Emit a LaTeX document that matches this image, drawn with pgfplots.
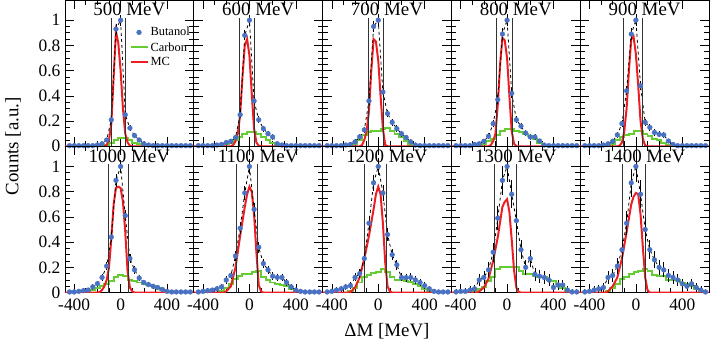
\documentclass[border=0pt]{standalone}
\usepackage{fontspec}
\setmainfont{Liberation Serif}
\usepackage{pgfplots}
\usepackage{pgfplotstable}
\pgfplotsset{compat=1.18}
\usepgfplotslibrary{groupplots}
\usetikzlibrary{calc}

\definecolor{butblue}{RGB}{74,114,196}
\definecolor{carbgreen}{RGB}{102,204,51}
\definecolor{mcred}{RGB}{236,30,36}

% columns: x = Delta M centre, b = butanol, e = error, c = carbon
\pgfplotstableread{
x b e c
-440 0.005 0.002 0
-400 0.005 0.002 0
-360 0.005 0.002 0
-320 0.005 0.002 0
-280 0.005 0.002 0
-240 0.005 0.002 0
-200 0.01 0.003 0
-160 0.02 0.004 0.005
-120 0.05 0.007 0.01
-80 0.21 0.014 0.03
-40 0.93 0.03 0.05
0 1.0 0.03 0.065
40 0.25 0.015 0.065
80 0.145 0.011 0.05
120 0.085 0.009 0.03
160 0.05 0.007 0.015
200 0.02 0.004 0.005
240 0.01 0.003 0
280 0.005 0.002 0
320 0.005 0.002 0
360 0.005 0.002 0
400 0.005 0.002 0
440 0.005 0.002 0
480 0.005 0.002 0
520 0.005 0.002 0
560 0.005 0.002 0
600 0.005 0.002 0
}\tA
\pgfplotstableread{
x b e c
-440 0.005 0.002 0
-400 0.005 0.002 0
-360 0.005 0.002 0
-320 0.005 0.002 0
-280 0.01 0.003 0
-240 0.015 0.004 0.005
-200 0.03 0.005 0.015
-160 0.04 0.006 0.03
-120 0.07 0.008 0.05
-80 0.25 0.015 0.075
-40 0.88 0.028 0.095
0 1.0 0.03 0.11
40 0.36 0.018 0.11
80 0.21 0.014 0.095
120 0.14 0.011 0.075
160 0.10 0.009 0.05
200 0.074 0.008 0.03
240 0.02 0.004 0.01
280 0.01 0.003 0
320 0.005 0.002 0
360 0.005 0.002 0
400 0.005 0.002 0
440 0.005 0.002 0
480 0.005 0.002 0
520 0.005 0.002 0
560 0.005 0.002 0
600 0.005 0.002 0
}\tB
\pgfplotstableread{
x b e c
-440 0.005 0.002 0
-400 0.005 0.002 0
-360 0.005 0.002 0
-320 0.005 0.002 0
-280 0.01 0.003 0
-240 0.015 0.004 0.005
-200 0.035 0.007 0.02
-160 0.075 0.01 0.05
-120 0.13 0.013 0.09
-80 0.36 0.021 0.11
-40 0.95 0.034 0.12
0 1.0 0.035 0.12
40 0.43 0.023 0.14
80 0.26 0.018 0.145
120 0.19 0.015 0.12
160 0.14 0.013 0.1
200 0.10 0.011 0.07
240 0.07 0.009 0.04
280 0.035 0.007 0.01
320 0.01 0.003 0
360 0.005 0.002 0
400 0.005 0.002 0
440 0.005 0.002 0
480 0.005 0.002 0
520 0.005 0.002 0
560 0.005 0.002 0
600 0.005 0.002 0
}\tC
\pgfplotstableread{
x b e c
-440 0.005 0.002 0
-400 0.005 0.002 0
-360 0.005 0.002 0
-320 0.005 0.002 0
-280 0.015 0.004 0
-240 0.02 0.005 0.005
-200 0.04 0.007 0.02
-160 0.08 0.01 0.04
-120 0.18 0.015 0.06
-80 0.37 0.021 0.09
-40 0.89 0.033 0.12
0 1.0 0.035 0.14
40 0.42 0.023 0.14
80 0.21 0.016 0.12
120 0.16 0.014 0.11
160 0.105 0.011 0.1
200 0.074 0.01 0.08
240 0.074 0.01 0.06
280 0.042 0.007 0.03
320 0.01 0.003 0.005
360 0.005 0.002 0
400 0.005 0.002 0
440 0.005 0.002 0
480 0.005 0.002 0
520 0.005 0.002 0
560 0.005 0.002 0
600 0.005 0.002 0
}\tD
\pgfplotstableread{
x b e c
-440 0.005 0.002 0
-400 0.005 0.002 0
-360 0.005 0.002 0
-320 0.005 0.002 0
-280 0.01 0.003 0
-240 0.02 0.005 0.005
-200 0.04 0.007 0.02
-160 0.09 0.01 0.05
-120 0.18 0.015 0.07
-80 0.44 0.023 0.09
-40 0.89 0.033 0.1
0 1.0 0.035 0.12
40 0.48 0.024 0.12
80 0.19 0.015 0.1
120 0.15 0.014 0.08
160 0.11 0.012 0.06
200 0.095 0.011 0.05
240 0.09 0.01 0.03
280 0.042 0.007 0.01
320 0.015 0.004 0
360 0.005 0.002 0
400 0.005 0.002 0
440 0.005 0.002 0
480 0.005 0.002 0
520 0.005 0.002 0
560 0.005 0.002 0
600 0.005 0.002 0
}\tE
\pgfplotstableread{
x b e c
-440 0.005 0.003 0
-400 0.005 0.003 0
-360 0.01 0.004 0
-320 0.015 0.005 0
-280 0.02 0.006 0.005
-240 0.045 0.008 0.02
-200 0.07 0.011 0.035
-160 0.12 0.014 0.05
-120 0.21 0.018 0.065
-80 0.44 0.027 0.09
-40 0.89 0.038 0.12
0 1.0 0.04 0.14
40 0.61 0.031 0.13
80 0.27 0.021 0.1
120 0.18 0.017 0.09
160 0.115 0.014 0.08
200 0.08 0.011 0.07
240 0.064 0.01 0.06
280 0.05 0.009 0.05
320 0.04 0.008 0.04
360 0.025 0.006 0.02
400 0.01 0.004 0.005
440 0.005 0.003 0
480 0.005 0.003 0
520 0.005 0.003 0
560 0.005 0.003 0
600 0.005 0.003 0
}\tF
\pgfplotstableread{
x b e c
-440 0.005 0.003 0
-400 0.01 0.005 0
-360 0.015 0.006 0
-320 0.02 0.007 0
-280 0.03 0.009 0
-240 0.045 0.011 0.01
-200 0.1 0.016 0.04
-160 0.136 0.018 0.07
-120 0.29 0.027 0.11
-80 0.51 0.036 0.13
-40 0.79 0.044 0.15
0 1.0 0.05 0.15
40 0.66 0.041 0.16
80 0.36 0.03 0.17
120 0.23 0.024 0.12
160 0.18 0.021 0.1
200 0.13 0.018 0.08
240 0.12 0.017 0.07
280 0.12 0.017 0.06
320 0.08 0.014 0.05
360 0.045 0.011 0.03
400 0.02 0.007 0.005
440 0.01 0.005 0
480 0.005 0.003 0
520 0.005 0.003 0
560 0.005 0.003 0
600 0.005 0.003 0
}\tG
\pgfplotstableread{
x b e c
-440 0.005 0.004 0
-400 0.01 0.005 0
-360 0.02 0.008 0
-320 0.03 0.01 0
-280 0.045 0.012 0
-240 0.055 0.013 0.01
-200 0.12 0.019 0.04
-160 0.15 0.021 0.08
-120 0.27 0.029 0.12
-80 0.55 0.041 0.14
-40 0.87 0.051 0.155
0 1.0 0.055 0.16
40 0.79 0.049 0.19
80 0.46 0.037 0.16
120 0.3 0.03 0.12
160 0.22 0.026 0.1
200 0.12 0.019 0.1
240 0.118 0.019 0.095
280 0.12 0.019 0.085
320 0.1 0.017 0.07
360 0.08 0.016 0.05
400 0.055 0.013 0.03
440 0.03 0.01 0.01
480 0.01 0.005 0
520 0.005 0.004 0
560 0.005 0.004 0
600 0.005 0.004 0
}\tH
\pgfplotstableread{
x b e c
-440 0.005 0.008 0
-400 0.01 0.011 0
-360 0.01 0.011 0
-320 0.02 0.016 0
-280 0.03 0.019 0.01
-240 0.1 0.035 0.03
-200 0.12 0.038 0.045
-160 0.18 0.047 0.09
-120 0.32 0.062 0.12
-80 0.59 0.085 0.19
-40 0.89 0.1 0.2
0 1.0 0.11 0.2
40 0.78 0.097 0.2
80 0.57 0.083 0.2
120 0.34 0.064 0.17
160 0.2 0.049 0.145
200 0.27 0.057 0.145
240 0.144 0.042 0.13
280 0.13 0.04 0.12
320 0.12 0.038 0.12
360 0.1 0.035 0.1
400 0.04 0.022 0.09
440 0.06 0.027 0.07
480 0.06 0.027 0.04
520 0.02 0.016 0.01
560 0.005 0.008 0
600 0.005 0.008 0
}\tI
\pgfplotstableread{
x b e c
-440 0.005 0.008 0
-400 0.01 0.011 0
-360 0.02 0.016 0
-320 0.03 0.019 0
-280 0.04 0.022 0
-240 0.12 0.038 0.01
-200 0.136 0.04 0.04
-160 0.21 0.05 0.07
-120 0.34 0.064 0.11
-80 0.55 0.082 0.12
-40 0.87 0.1 0.145
0 1.0 0.11 0.16
40 0.78 0.097 0.17
80 0.5 0.078 0.19
120 0.34 0.064 0.17
160 0.26 0.056 0.14
200 0.2 0.049 0.13
240 0.18 0.047 0.13
280 0.136 0.04 0.1
320 0.12 0.038 0.1
360 0.1 0.035 0.1
400 0.07 0.029 0.08
440 0.05 0.025 0.07
480 0.07 0.029 0.055
520 0.04 0.022 0.03
560 0.02 0.016 0.01
600 0.005 0.008 0
}\tJ

\newcommand{\titlefont}{\fontsize{19}{19}\selectfont}
\newcommand{\labfont}{\fontsize{19}{19}\selectfont}

% #1 table, #2 MC coordinates, #3 #4 cut window, #5 title
\newcommand{\panel}[5]{%
  \nextgroupplot
  \addplot[carbgreen, line width=2pt, const plot mark mid, forget plot] table[x=x,y=c]{#1};
  \addplot[mcred, line width=2pt, forget plot] coordinates {#2};
  \addplot[black, dashed, line width=0.8pt, forget plot] table[x=x,y=b]{#1};
  \addplot[black!80, line width=0.9pt, forget plot] coordinates {(#3,0) (#3,1.02)};
  \addplot[black!80, line width=0.9pt, forget plot] coordinates {(#4,0) (#4,1.02)};
  \addplot[only marks, mark=*, mark size=2.4pt, butblue, forget plot,
    error bars/.cd, y dir=both, y explicit,
    error bar style={black, line width=0.7pt},
    error mark options={black, mark size=1.6pt, line width=0.7pt}]
    table[x=x,y=b,y error=e]{#1};
  \node[anchor=north, font=\titlefont, inner sep=1bp] at (rel axis cs:0.5,0.985) {#5};
}

\begin{document}
\begin{tikzpicture}
\begin{groupplot}[
  group style={group size=5 by 2, horizontal sep=0pt, vertical sep=0pt,
    xticklabels at=edge bottom, yticklabels at=edge left},
  width=129bp, height=146.5bp, scale only axis,
  xmin=-480, xmax=630, ymin=0, ymax=1.16,
  xtick={-400,0,400}, ytick={0,0.2,0.4,0.6,0.8,1},
  minor x tick num=3, minor y tick num=3,
  major tick length=9bp, minor tick length=5bp,
  tick style={black, line width=0.6pt},
  axis line style={line width=0.8pt},
  tick label style={font=\fontsize{17.5}{17.5}\selectfont},
  xticklabel style={yshift=-3bp},
  yticklabel style={xshift=-1bp},
  /pgf/number format/assume math mode=true,
  legend style={draw=none, fill=none, at={(0.995,0.835)}, anchor=north east,
    font=\fontsize{12.5}{14}\selectfont, row sep=1bp, inner sep=1bp},
  legend cell align=left,
]
\panel{\tA}{(-480,0) (-140,0) (-120,0.01) (-100,0.05) (-80,0.18) (-60,0.55) (-40,0.91) (-20,0.82) (0,0.6) (20,0.3) (40,0.1) (60,0.03) (80,0.005) (100,0) (630,0)}{-78}{45}{500 MeV}
\addlegendimage{only marks, mark=*, mark size=2.4pt, butblue}\addlegendentry{Butanol}
\addlegendimage{carbgreen, line width=2pt}\addlegendentry{Carbon}
\addlegendimage{mcred, line width=2pt}\addlegendentry{MC}
\panel{\tB}{(-480,0) (-160,0) (-140,0.01) (-120,0.04) (-100,0.1) (-80,0.25) (-60,0.55) (-40,0.8) (-20,0.85) (0,0.72) (20,0.42) (40,0.14) (60,0.03) (80,0.005) (100,0) (630,0)}{-84}{39}{600 MeV}
\panel{\tC}{(-480,0) (-160,0) (-140,0.01) (-120,0.05) (-100,0.12) (-80,0.28) (-60,0.6) (-40,0.85) (-20,0.83) (0,0.68) (20,0.4) (40,0.14) (60,0.01) (80,0) (630,0)}{-84}{47}{700 MeV}
\panel{\tD}{(-480,0) (-160,0) (-140,0.01) (-120,0.04) (-100,0.1) (-80,0.33) (-60,0.65) (-40,0.86) (-20,0.84) (0,0.7) (20,0.4) (40,0.12) (60,0.02) (80,0) (630,0)}{-90}{47}{800 MeV}
\panel{\tE}{(-480,0) (-160,0) (-140,0.005) (-120,0.03) (-100,0.12) (-80,0.3) (-60,0.6) (-40,0.85) (-20,0.87) (0,0.73) (20,0.48) (40,0.2) (60,0.06) (80,0.005) (100,0) (630,0)}{-107}{56}{900 MeV}
\panel{\tF}{(-480,0) (-200,0) (-180,0.005) (-160,0.02) (-140,0.05) (-120,0.1) (-100,0.2) (-80,0.43) (-60,0.7) (-40,0.83) (-20,0.84) (0,0.83) (20,0.72) (40,0.48) (60,0.17) (80,0.04) (100,0.01) (120,0) (630,0)}{-107}{64}{1000 MeV}
\panel{\tG}{(-480,0) (-220,0) (-200,0.01) (-160,0.05) (-120,0.2) (-80,0.45) (-40,0.68) (-20,0.78) (0,0.84) (20,0.8) (40,0.62) (60,0.32) (80,0.06) (100,0.01) (120,0) (630,0)}{-113}{73}{1100 MeV}
\panel{\tH}{(-480,0) (-260,0) (-240,0.005) (-200,0.04) (-160,0.12) (-120,0.27) (-80,0.45) (-40,0.66) (-20,0.78) (0,0.84) (20,0.78) (40,0.55) (60,0.24) (80,0.05) (100,0.01) (120,0) (630,0)}{-119}{73}{1200 MeV}
\panel{\tI}{(-480,0) (-260,0) (-240,0.01) (-200,0.04) (-160,0.11) (-120,0.25) (-80,0.44) (-40,0.68) (-20,0.72) (0,0.74) (20,0.64) (40,0.42) (60,0.18) (80,0.04) (100,0.005) (120,0) (630,0)}{-110}{77}{1300 MeV}
\panel{\tJ}{(-480,0) (-260,0) (-240,0.01) (-200,0.05) (-160,0.12) (-120,0.27) (-80,0.48) (-40,0.7) (-20,0.76) (0,0.79) (20,0.78) (40,0.62) (60,0.36) (80,0.12) (100,0.02) (120,0) (630,0)}{-116}{79}{1400 MeV}
\end{groupplot}
\node[rotate=90, font=\labfont] at ($(group c1r1.south west)+(-52bp,0)$) {Counts [a.u.]};
\node[font=\labfont] at ($(group c3r2.south)+(0,-39bp)$) {ΔM [MeV]};
\pgfresetboundingbox
\path ($(group c1r2.south west)+(-65bp,-57bp)$) rectangle ($(group c5r1.north east)+(1bp,0bp)$);
\end{tikzpicture}
\end{document}
